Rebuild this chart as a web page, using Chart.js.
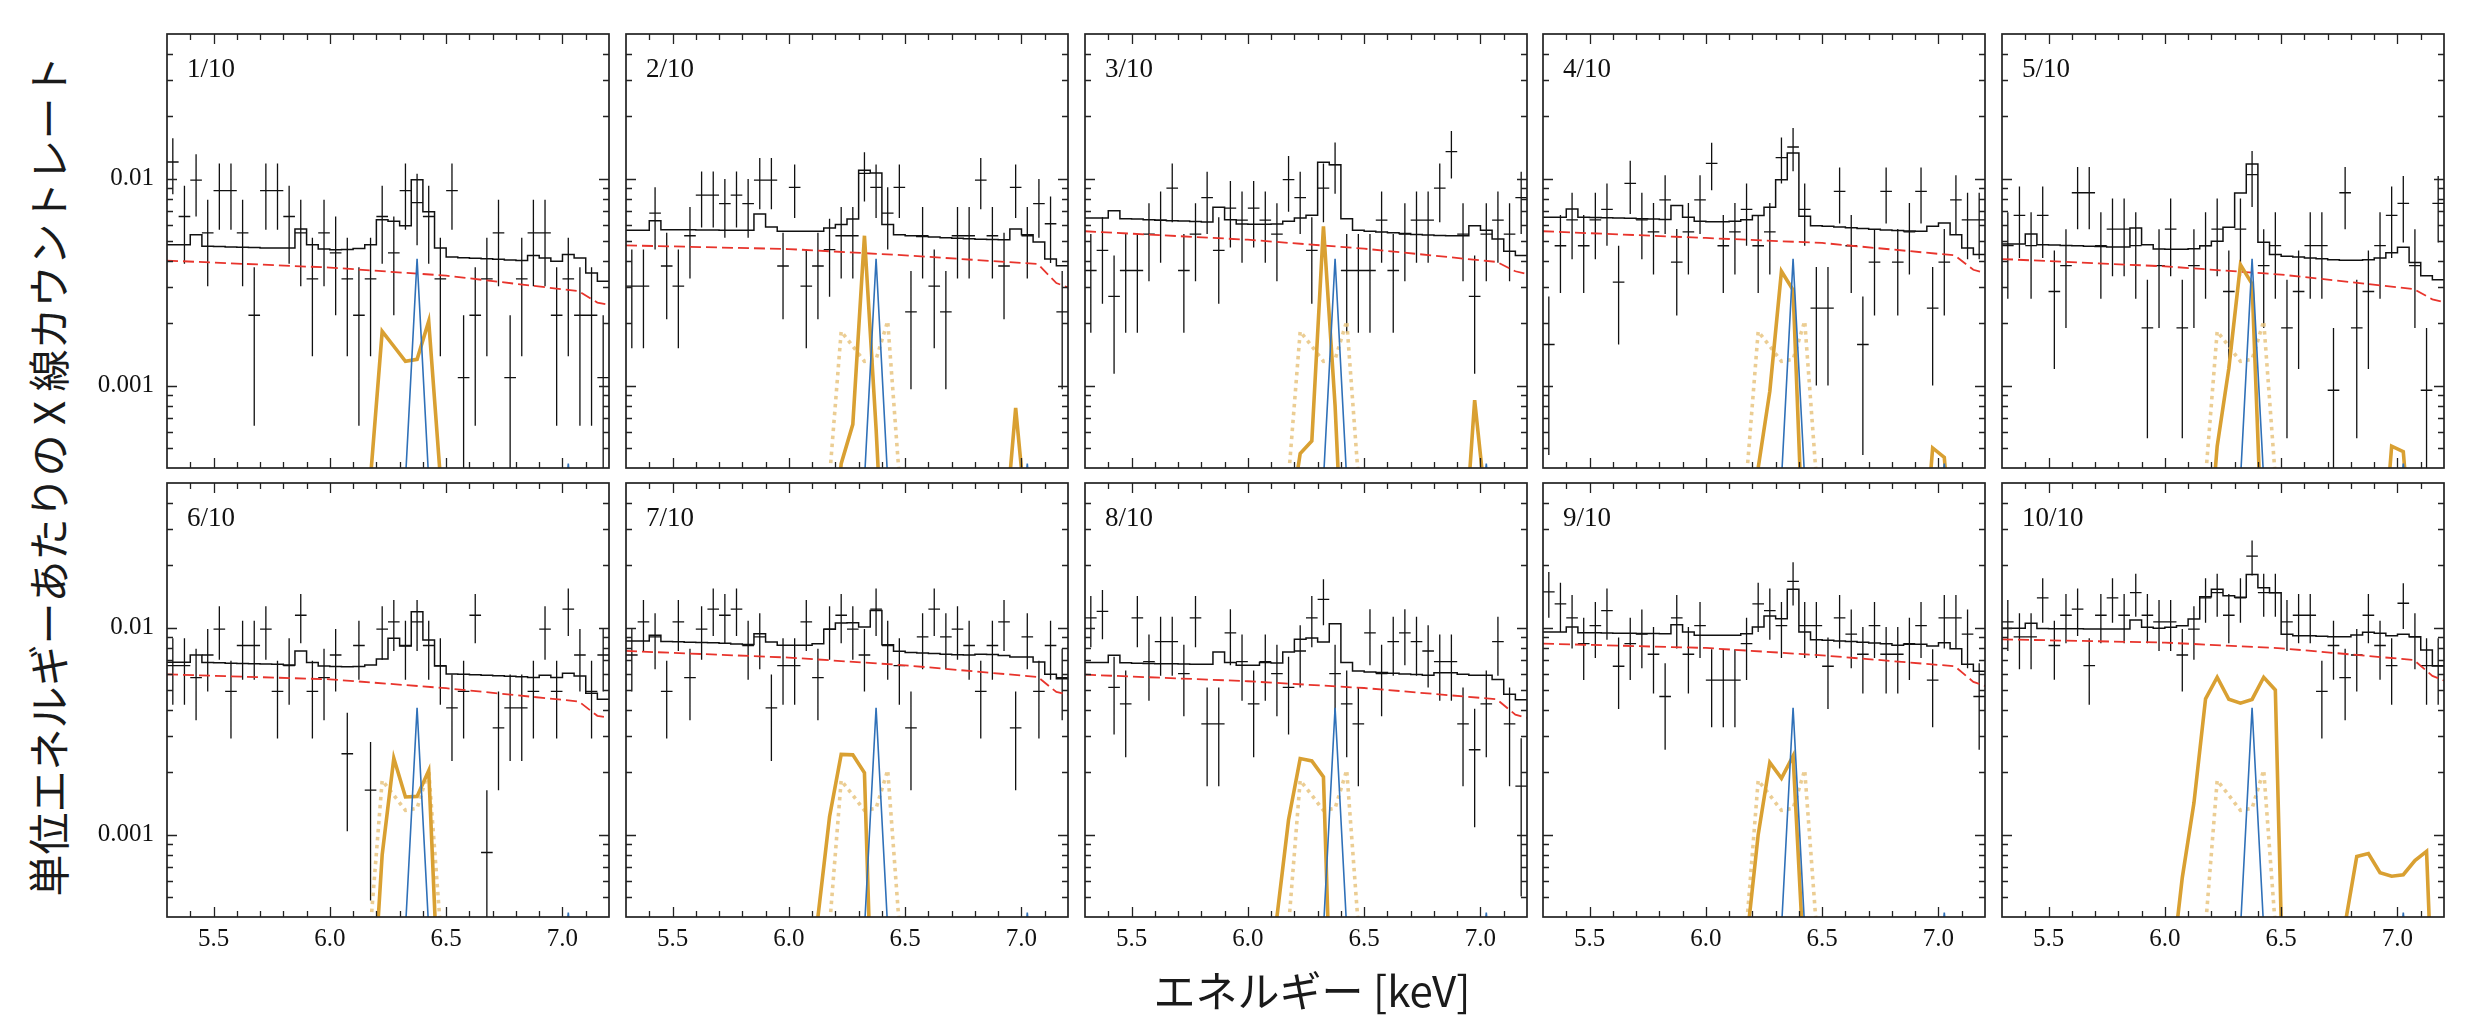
<!DOCTYPE html>
<html>
<head>
<meta charset="utf-8">
<script src="https://cdn.jsdelivr.net/npm/chart.js@4.4.1/dist/chart.umd.min.js"></script>
<style>
  html, body { margin: 0; padding: 0; background: #fff; }
  body { width: 2478px; height: 1028px; position: relative; overflow: hidden; }
  canvas { position: absolute; }
  .tag { position: absolute; font-family: "Liberation Serif", serif; font-size: 27px; line-height: 27px; color: #111; white-space: nowrap; }
  .axlabel { position: absolute; font-family: "Noto Sans CJK JP", sans-serif; font-size: 42px; line-height: 42px; color: #1a1a1a; white-space: nowrap; }
</style>
</head>
<body>
<script>
// axis ranges and ticks
var xMin = 5.3, xMax = 7.2, yMin = 0.0004, yMax = 0.05;
var xMajorTicks = [5.5, 6.0, 6.5, 7.0];
var xMinorTicks = [5.4, 5.6, 5.7, 5.8, 5.9, 6.1, 6.2, 6.3, 6.4, 6.6, 6.7, 6.8, 6.9, 7.1];
var yMajorTicks = [0.001, 0.01];
var yMinorTicks = [0.0005, 0.0006, 0.0007, 0.0008, 0.0009, 0.002, 0.003, 0.004, 0.005, 0.006, 0.007, 0.008, 0.009, 0.02, 0.03, 0.04];

var panelTags = ["1/10", "2/10", "3/10", "4/10", "5/10", "6/10", "7/10", "8/10", "9/10", "10/10"];

// spectral bins (keV), half width 0.025
var energy = [5.325, 5.375, 5.425, 5.475, 5.525, 5.575, 5.625, 5.675, 5.725, 5.775, 5.825, 5.875, 5.925, 5.975, 6.025, 6.075, 6.125, 6.175, 6.225, 6.275, 6.325, 6.375, 6.425, 6.475, 6.525, 6.575, 6.625, 6.675, 6.725, 6.775, 6.825, 6.875, 6.925, 6.975, 7.025, 7.075, 7.125, 7.175];
var binHalf = 0.025;

// counts per bin and rate of one count in each panel
var countUnit = [0.001094, 0.000757, 0.0009, 0.00079, 0.00095, 0.00082, 0.00082, 0.000857, 0.00093, 0.00082];
var counts1 = [11, 6, 9, 5, 8, 8, 5, 2, 8, 8, 6, 5, 3, 5, 4, 3, 2, 3, 6, 4, 8, 7, 6, 3, 8, 1, 2, 3, 5, 1, 3, 5, 5, 2, 3, 2, 2, 1];
var counts2 = [4, 4, 9, 5, 4, 7, 11, 11, 10, 11, 10, 13, 13, 5, 12, 4, 5, 6, 7, 7, 14, 12, 9, 12, 3, 7, 4, 3, 7, 7, 13, 7, 5, 12, 7, 10, 8, 3];
var counts3 = [4, 5, 3, 4, 4, 6, 7, 10, 4, 6, 9, 5, 8, 7, 8, 7, 6, 11, 9, 5, 10, 13, 4, 4, 4, 7, 4, 6, 7, 7, 10, 15, 6, 3, 6, 7, 6, 9];
var counts4 = [2, 6, 8, 6, 8, 9, 4, 12, 8, 7, 10, 5, 7, 10, 15, 6, 7, 9, 6, 7, 16, 18, 9, 3, 3, 11, 6, 2, 5, 11, 5, 7, 11, 3, 5, 10, 8, 8];
var counts5 = [5, 7, 5, 7, 3, 4, 9, 9, 5, 6, 6, 5, 2, 4, 6, 2, 4, 5, 6, 3, 6, 11, 4, 5, 2, 3, 5, 5, 1, 9, 2, 3, 5, 7, 8, 4, 1, 8];
var counts6 = [8, 8, 7, 9, 12, 6, 10, 10, 12, 6, 8, 14, 6, 7, 9, 3, 10, 2, 12, 13, 10, 13, 10, 8, 5, 6, 14, 1, 4, 5, 5, 6, 12, 6, 15, 9, 6, 9];
var counts7 = [9, 13, 11, 6, 13, 7, 12, 15, 14, 15, 10, 11, 5, 8, 8, 13, 7, 12, 14, 12, 9, 15, 10, 8, 4, 11, 15, 11, 12, 10, 6, 10, 13, 4, 11, 6, 10, 7];
var counts8 = [13, 14, 6, 5, 13, 8, 10, 10, 7, 13, 4, 4, 11, 8, 5, 8, 7, 6, 9, 13, 16, 7, 5, 4, 11, 7, 10, 11, 10, 9, 8, 8, 4, 3, 5, 10, 4, 2];
var counts9 = [16, 14, 12, 9, 11, 13, 7, 9, 10, 8, 5, 12, 8, 11, 6, 6, 6, 9, 14, 13, 11, 18, 11, 11, 7, 12, 10, 8, 11, 8, 8, 9, 11, 6, 12, 12, 10, 5];
var counts10 = [13, 11, 11, 17, 10, 14, 15, 8, 14, 17, 14, 18, 14, 13, 13, 9, 12, 17, 18, 14, 17, 27, 18, 18, 13, 14, 14, 6, 10, 7, 9, 14, 10, 8, 16, 11, 8, 8];

// total model per bin (black histogram)
var model1 = [0.00480, 0.00480, 0.00536, 0.00471, 0.00470, 0.00468, 0.00466, 0.00465, 0.00463, 0.00462, 0.00462, 0.00571, 0.00480, 0.00457, 0.00454, 0.00455, 0.00460, 0.00480, 0.00634, 0.00622, 0.00593, 0.00989, 0.00693, 0.00462, 0.00418, 0.00415, 0.00412, 0.00410, 0.00408, 0.00405, 0.00402, 0.00425, 0.00414, 0.00399, 0.00430, 0.00414, 0.00350, 0.00319];
var model2 = [0.00563, 0.00563, 0.00627, 0.00567, 0.00566, 0.00566, 0.00565, 0.00565, 0.00564, 0.00563, 0.00563, 0.00675, 0.00584, 0.00557, 0.00557, 0.00557, 0.00557, 0.00578, 0.00600, 0.00639, 0.01097, 0.01065, 0.00600, 0.00536, 0.00530, 0.00526, 0.00522, 0.00518, 0.00515, 0.00512, 0.00510, 0.00508, 0.00507, 0.00571, 0.00536, 0.00494, 0.00409, 0.00380];
var model3 = [0.00645, 0.00645, 0.00700, 0.00641, 0.00638, 0.00634, 0.00630, 0.00627, 0.00624, 0.00621, 0.00618, 0.00727, 0.00634, 0.00604, 0.00603, 0.00603, 0.00604, 0.00622, 0.00645, 0.00665, 0.01199, 0.01168, 0.00641, 0.00563, 0.00557, 0.00553, 0.00548, 0.00543, 0.00538, 0.00534, 0.00531, 0.00530, 0.00530, 0.00593, 0.00563, 0.00511, 0.00446, 0.00425];
var model4 = [0.00651, 0.00651, 0.00714, 0.00651, 0.00649, 0.00647, 0.00645, 0.00643, 0.00641, 0.00638, 0.00635, 0.00741, 0.00651, 0.00622, 0.00620, 0.00620, 0.00622, 0.00634, 0.00663, 0.00727, 0.00989, 0.01330, 0.00658, 0.00593, 0.00589, 0.00584, 0.00579, 0.00574, 0.00569, 0.00565, 0.00561, 0.00558, 0.00557, 0.00589, 0.00611, 0.00536, 0.00463, 0.00430];
var model5 = [0.00483, 0.00483, 0.00540, 0.00480, 0.00478, 0.00476, 0.00474, 0.00472, 0.00470, 0.00468, 0.00467, 0.00578, 0.00480, 0.00457, 0.00456, 0.00456, 0.00458, 0.00474, 0.00498, 0.00582, 0.00853, 0.01177, 0.00493, 0.00430, 0.00422, 0.00418, 0.00414, 0.00410, 0.00406, 0.00403, 0.00403, 0.00406, 0.00414, 0.00438, 0.00466, 0.00394, 0.00340, 0.00325];
var model6 = [0.00680, 0.00680, 0.00738, 0.00678, 0.00676, 0.00674, 0.00672, 0.00670, 0.00668, 0.00665, 0.00661, 0.00772, 0.00678, 0.00653, 0.00650, 0.00648, 0.00650, 0.00661, 0.00706, 0.00888, 0.00816, 0.01195, 0.00872, 0.00653, 0.00598, 0.00595, 0.00592, 0.00589, 0.00586, 0.00583, 0.00580, 0.00574, 0.00589, 0.00574, 0.00602, 0.00584, 0.00482, 0.00451];
var model7 = [0.00862, 0.00862, 0.00918, 0.00858, 0.00855, 0.00851, 0.00848, 0.00845, 0.00841, 0.00835, 0.00830, 0.00935, 0.00853, 0.00822, 0.00822, 0.00822, 0.00837, 0.00982, 0.01053, 0.01057, 0.01007, 0.01212, 0.00828, 0.00769, 0.00758, 0.00754, 0.00750, 0.00745, 0.00740, 0.00737, 0.00743, 0.00741, 0.00733, 0.00722, 0.00722, 0.00683, 0.00596, 0.00567];
var model8 = [0.00678, 0.00678, 0.00735, 0.00676, 0.00674, 0.00672, 0.00670, 0.00669, 0.00668, 0.00666, 0.00665, 0.00763, 0.00678, 0.00658, 0.00658, 0.00678, 0.00675, 0.00763, 0.00878, 0.00891, 0.00853, 0.01045, 0.00678, 0.00618, 0.00611, 0.00607, 0.00602, 0.00598, 0.00594, 0.00589, 0.00606, 0.00606, 0.00596, 0.00589, 0.00589, 0.00561, 0.00477, 0.00449];
var model9 = [0.00953, 0.00953, 0.01007, 0.00946, 0.00944, 0.00942, 0.00940, 0.00939, 0.00938, 0.00937, 0.00935, 0.01034, 0.00953, 0.00918, 0.00918, 0.00918, 0.00918, 0.00935, 0.01007, 0.01138, 0.01105, 0.01532, 0.00953, 0.00875, 0.00869, 0.00863, 0.00857, 0.00850, 0.00843, 0.00837, 0.00822, 0.00831, 0.00831, 0.00816, 0.00846, 0.00792, 0.00665, 0.00616];
var model10 = [0.00993, 0.00993, 0.01049, 0.00990, 0.00989, 0.00988, 0.00987, 0.00986, 0.00985, 0.00985, 0.00985, 0.01089, 0.01004, 0.00993, 0.01004, 0.01022, 0.01101, 0.01411, 0.01532, 0.01427, 0.01401, 0.01809, 0.01560, 0.01475, 0.00929, 0.00915, 0.00915, 0.00910, 0.00905, 0.00905, 0.00922, 0.00949, 0.00939, 0.00915, 0.00929, 0.00905, 0.00780, 0.00653];

// continuum (red dashed)
var contE = [5.3, 6.0, 6.5, 7.07, 7.15, 7.2];
var cont1 = [0.00402, 0.00372, 0.00340, 0.00286, 0.00252, 0.00246];
var cont2 = [0.00476, 0.00457, 0.00426, 0.00387, 0.00313, 0.00298];
var cont3 = [0.00557, 0.00507, 0.00459, 0.00396, 0.00357, 0.00346];
var cont4 = [0.00557, 0.00517, 0.00489, 0.00426, 0.00363, 0.00350];
var cont5 = [0.00409, 0.00377, 0.00344, 0.00293, 0.00261, 0.00253];
var cont6 = [0.00595, 0.00563, 0.00510, 0.00440, 0.00375, 0.00368];
var cont7 = [0.00772, 0.00717, 0.00658, 0.00578, 0.00489, 0.00475];
var cont8 = [0.00593, 0.00551, 0.00511, 0.00451, 0.00380, 0.00367];
var cont9 = [0.00837, 0.00798, 0.00735, 0.00651, 0.00547, 0.00523];
var cont10 = [0.00878, 0.00847, 0.00795, 0.00698, 0.00585, 0.00555];

// line components on a fine grid
var lineE = [6.025, 6.075, 6.125, 6.175, 6.225, 6.275, 6.325, 6.375, 6.425, 6.475, 6.525, 6.575, 6.625, 6.675, 6.725, 6.775, 6.825, 6.875, 6.925, 6.975, 7.025, 7.075, 7.125, 7.175];
var narrow = [1e-5, 1e-5, 1e-5, 1e-5, 1e-5, 1e-5, 0.00035, 0.0041, 0.00035, 1e-5, 1e-5, 1e-5, 1e-5, 1e-5, 1e-5, 1e-5, 1e-5, 1e-5, 1e-5, 0.0001, 0.00042, 0.0001, 1e-5, 1e-5];
var fe1 = [1e-5, 1e-5, 1e-5, 0.00036, 0.00183, 0.00155, 0.00131, 0.00134, 0.00205, 0.00036, 1e-5, 1e-5, 1e-5, 1e-5, 1e-5, 1e-5, 1e-5, 1e-5, 1e-5, 1e-5, 1e-5, 1e-5, 1e-5, 1e-5];
var fe2 = [1e-5, 1e-5, 1e-5, 0.0001, 0.00042, 0.00065, 0.0053, 0.00062, 0.00005, 1e-5, 1e-5, 1e-5, 1e-5, 1e-5, 1e-5, 1e-5, 1e-5, 1e-5, 0.00017, 0.00078, 0.0002, 1e-5, 1e-5, 1e-5];
var fe3 = [1e-5, 1e-5, 1e-5, 0.0002, 0.00047, 0.00054, 0.00589, 0.0008, 0.00005, 1e-5, 1e-5, 1e-5, 1e-5, 1e-5, 1e-5, 1e-5, 1e-5, 1e-5, 0.00013, 0.00085, 0.00025, 1e-5, 1e-5, 1e-5];
var fe4 = [1e-5, 1e-5, 1e-5, 0.0001, 0.0004, 0.00094, 0.00357, 0.0029, 0.0001, 1e-5, 1e-5, 1e-5, 1e-5, 1e-5, 1e-5, 1e-5, 1e-5, 1e-5, 0.0001, 0.0005, 0.00045, 0.0001, 1e-5, 1e-5];
var fe5 = [1e-5, 1e-5, 1e-5, 0.0001, 0.00051, 0.00121, 0.00384, 0.0031, 0.0001, 1e-5, 1e-5, 1e-5, 1e-5, 1e-5, 1e-5, 1e-5, 1e-5, 1e-5, 0.0001, 0.00051, 0.00048, 0.0001, 1e-5, 1e-5];
var fe6 = [1e-5, 1e-5, 1e-5, 0.0001, 0.0008, 0.00234, 0.00152, 0.00153, 0.00204, 0.0001, 1e-5, 1e-5, 1e-5, 1e-5, 1e-5, 1e-5, 1e-5, 1e-5, 1e-5, 1e-5, 1e-5, 1e-5, 1e-5, 1e-5];
var fe7 = [1e-5, 0.0001, 0.0004, 0.00122, 0.00244, 0.00243, 0.00199, 0.00003, 1e-5, 1e-5, 1e-5, 1e-5, 1e-5, 1e-5, 1e-5, 1e-5, 1e-5, 1e-5, 1e-5, 1e-5, 1e-5, 1e-5, 1e-5, 1e-5];
var fe8 = [1e-5, 0.0001, 0.0004, 0.00118, 0.00233, 0.00227, 0.0019, 0.00003, 1e-5, 1e-5, 1e-5, 1e-5, 1e-5, 1e-5, 1e-5, 1e-5, 1e-5, 1e-5, 1e-5, 1e-5, 1e-5, 1e-5, 1e-5, 1e-5];
var fe9 = [1e-5, 1e-5, 1e-5, 0.0003, 0.001, 0.00223, 0.00187, 0.0024, 0.0002, 1e-5, 1e-5, 1e-5, 1e-5, 1e-5, 1e-5, 1e-5, 1e-5, 1e-5, 1e-5, 1e-5, 1e-5, 1e-5, 1e-5, 1e-5];
var fe10 = [0.0002, 0.00062, 0.00142, 0.00453, 0.00576, 0.00451, 0.00432, 0.0045, 0.00576, 0.005, 0.00003, 1e-5, 1e-5, 1e-5, 1e-5, 0.00037, 0.000785, 0.00081, 0.000655, 0.00063, 0.00064, 0.00075, 0.00083, 0.00003];

var allCounts = [counts1, counts2, counts3, counts4, counts5, counts6, counts7, counts8, counts9, counts10];
var allModels = [model1, model2, model3, model4, model5, model6, model7, model8, model9, model10];
var allCont = [cont1, cont2, cont3, cont4, cont5, cont6, cont7, cont8, cont9, cont10];
var allFe = [fe1, fe2, fe3, fe4, fe5, fe6, fe7, fe8, fe9, fe10];

// page layout
var panelLeft = [167, 626, 1085, 1543, 2002];
var panelTop = [34, 483];
var panelW = 442, panelH = 434;
var padL = 90, padR = 8, padT = 8, padB = 50;

function pairs(xs, ys) {
  return xs.map(function (x, i) { return { x: x, y: ys[i] }; });
}

function errorBars(counts, unit) {
  var pts = [];
  for (var i = 0; i < energy.length; i++) {
    var n = counts[i];
    if (!n) continue;
    var v = n * unit, e = Math.sqrt(n) * unit;
    var lo = v - e > 0 ? v - e : 1e-7;
    pts.push({ x: energy[i], y: lo }, { x: energy[i], y: v + e }, { x: energy[i], y: null });
    pts.push({ x: energy[i] - binHalf, y: v }, { x: energy[i] + binHalf, y: v }, { x: energy[i] + binHalf, y: null });
  }
  return pts;
}

function histogram(model) {
  var pts = energy.map(function (e, i) { return { x: e - binHalf, y: model[i] }; });
  pts.push({ x: energy[energy.length - 1] + binHalf, y: model[model.length - 1] });
  return pts;
}

// box and inward ticks on all four sides
var framePlugin = {
  id: "frame",
  afterDatasetsDraw: function (chart) {
    var a = chart.chartArea, ctx = chart.ctx;
    var xs = chart.scales.x, ys = chart.scales.y;
    ctx.save();
    ctx.strokeStyle = "#222";
    ctx.lineWidth = 1.3;
    ctx.beginPath();
    function xTick(v, len) {
      var px = Math.round(xs.getPixelForValue(v)) + 0.5;
      ctx.moveTo(px, a.bottom); ctx.lineTo(px, a.bottom - len);
      ctx.moveTo(px, a.top); ctx.lineTo(px, a.top + len);
    }
    function yTick(v, len) {
      var py = Math.round(ys.getPixelForValue(v)) + 0.5;
      ctx.moveTo(a.left, py); ctx.lineTo(a.left + len, py);
      ctx.moveTo(a.right, py); ctx.lineTo(a.right - len, py);
    }
    xMinorTicks.forEach(function (v) { xTick(v, 6); });
    xMajorTicks.forEach(function (v) { xTick(v, 10); });
    yMinorTicks.forEach(function (v) { yTick(v, 6); });
    yMajorTicks.forEach(function (v) { yTick(v, 10); });
    ctx.stroke();
    ctx.lineWidth = 1.7;
    ctx.strokeRect(a.left, a.top, a.right - a.left, a.bottom - a.top);
    ctx.restore();
  }
};

function makePanel(p) {
  var col = p % 5, row = Math.floor(p / 5);
  var canvas = document.createElement("canvas");
  canvas.width = padL + panelW + padR;
  canvas.height = padT + panelH + padB;
  canvas.style.left = (panelLeft[col] - padL) + "px";
  canvas.style.top = (panelTop[row] - padT) + "px";
  document.body.appendChild(canvas);

  var tag = document.createElement("div");
  tag.className = "tag";
  tag.textContent = panelTags[p];
  tag.style.left = (panelLeft[col] + 20) + "px";
  tag.style.top = (panelTop[row] + 21) + "px";
  document.body.appendChild(tag);

  var base = { pointRadius: 0, fill: false, tension: 0, clip: 0 };
  var datasets = [
    Object.assign({ data: pairs(lineE, narrow), borderColor: "#2f70b8", borderWidth: 1.6 }, base),
    Object.assign({ data: pairs(lineE, allFe[p]), borderColor: "#d9a032", borderWidth: 3.6 }, base)
  ];
  if (p > 0) {
    datasets.push(Object.assign({ data: pairs(lineE, fe1), borderColor: "rgba(232, 196, 128, 0.85)", borderWidth: 3.6, borderDash: [3.5, 4.5] }, base));
  }
  datasets.push(Object.assign({ data: pairs(contE, allCont[p]), borderColor: "#e8342c", borderWidth: 1.8, borderDash: [11, 5] }, base));
  datasets.push(Object.assign({ data: histogram(allModels[p]), borderColor: "#111", borderWidth: 1.5, stepped: true }, base));
  datasets.push(Object.assign({ data: errorBars(allCounts[p], countUnit[p]), borderColor: "#111", borderWidth: 1.3, spanGaps: false }, base));

  new Chart(canvas.getContext("2d"), {
    type: "line",
    data: { datasets: datasets },
    options: {
      responsive: false,
      animation: false,
      devicePixelRatio: 1,
      events: [],
      layout: { padding: { left: 0, right: padR, top: padT, bottom: 0 } },
      plugins: { legend: { display: false }, tooltip: { enabled: false } },
      scales: {
        x: {
          type: "linear", min: xMin, max: xMax,
          grid: { display: false, drawTicks: false },
          border: { display: false },
          afterBuildTicks: function (s) { s.ticks = xMajorTicks.map(function (v) { return { value: v }; }); },
          afterFit: function (s) { s.height = padB; s.paddingLeft = 0; s.paddingRight = 0; },
          ticks: {
            display: row === 1, padding: 7, color: "#111", maxRotation: 0, autoSkip: false,
            font: { family: "Liberation Serif", size: 25 },
            callback: function (v) { return Number(v).toFixed(1); }
          }
        },
        y: {
          type: "logarithmic", min: yMin, max: yMax,
          grid: { display: false, drawTicks: false },
          border: { display: false },
          afterBuildTicks: function (s) { s.ticks = yMajorTicks.map(function (v) { return { value: v }; }); },
          afterFit: function (s) { s.width = padL; s.paddingTop = 0; s.paddingBottom = 0; },
          ticks: {
            display: col === 0, padding: 13, color: "#111", autoSkip: false,
            font: { family: "Liberation Serif", size: 25 },
            callback: function (v) { return String(v); }
          }
        }
      }
    },
    plugins: [framePlugin]
  });
}

for (var p = 0; p < 10; p++) makePanel(p);

var xl = document.createElement("div");
xl.className = "axlabel";
xl.textContent = "エネルギー [keV]";
xl.style.left = "1312px";
xl.style.top = "989px";
xl.style.transform = "translate(-50%, -50%)";
document.body.appendChild(xl);

var yl = document.createElement("div");
yl.className = "axlabel";
yl.textContent = "単位エネルギーあたりの X 線カウントレート";
yl.style.left = "47px";
yl.style.top = "476px";
yl.style.transform = "translate(-50%, -50%) rotate(-90deg)";
document.body.appendChild(yl);
</script>
</body>
</html>
